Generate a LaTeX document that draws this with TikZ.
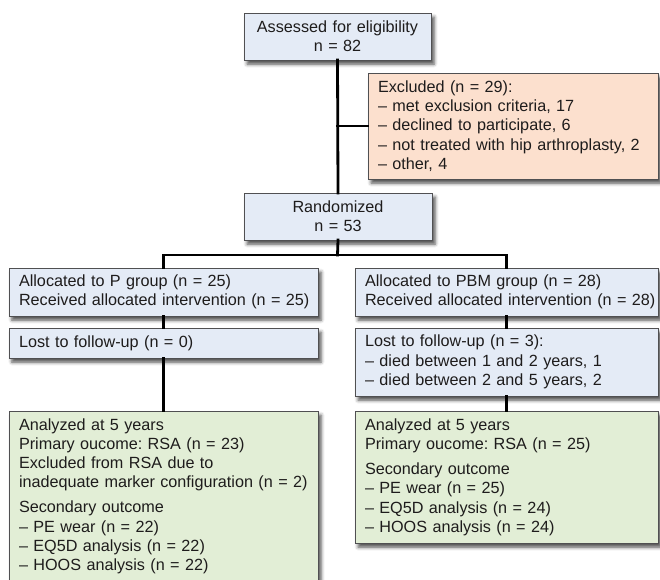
\documentclass[tikz,border=0pt]{standalone}
\usepackage{fontspec}
\setmainfont{Liberation Sans}
\frenchspacing
\usetikzlibrary{shadows.blur}
\definecolor{boxblue}{RGB}{228,235,246}
\definecolor{boxpeach}{RGB}{252,224,206}
\definecolor{boxgreen}{RGB}{226,238,214}
\definecolor{boxline}{RGB}{80,80,82}
\definecolor{txt}{RGB}{30,28,28}
\begin{document}
\begin{tikzpicture}[x=1pt,y=-1pt,
  box/.style={draw=boxline, line width=0.8pt, inner xsep=10pt, inner ysep=0pt,
    outer sep=0pt, anchor=north west, text=txt,
    font=\fontsize{16.2}{19.2}\selectfont\frenchspacing,
    blur shadow={shadow xshift=3pt, shadow yshift=-4pt, shadow blur radius=3.5pt, shadow opacity=70}},
  lbox/.style={box, align=left},
  cbox/.style={box, align=center},
  blue/.style={fill=boxblue},
  peach/.style={fill=boxpeach},
  green/.style={fill=boxgreen},
  conn/.style={line width=2.8pt, draw=black, line cap=rect, line join=miter}]
\useasboundingbox (0,0) rectangle (660,579);
\clip (0,0) rectangle (660,579);

\node[cbox, blue, minimum width=187pt, minimum height=47pt, text width=167pt] (assess) at (244,13)
  {Assessed for eligibility\\ n = 82};
\node[lbox, peach, minimum width=290pt, minimum height=106pt, text width=270pt] (excl) at (368,73)
  {Excluded (n = 29):\\ – met exclusion criteria, 17\\ – declined to participate, 6\\ – not treated with hip arthroplasty, 2\\ – other, 4};
\node[cbox, blue, minimum width=188pt, minimum height=47pt, text width=168pt] (rand) at (244,193)
  {Randomized\\ n = 53};

\node[lbox, blue, minimum width=309pt, minimum height=48pt, text width=289pt] (allocP) at (9,268)
  {Allocated to P group (n = 25)\\ \mbox{Received allocated intervention (n = 25)}};
\node[lbox, blue, minimum width=303pt, minimum height=48pt, text width=283pt] (allocB) at (355,268)
  {Allocated to PBM group (n = 28)\\ \mbox{Received allocated intervention (n = 28)}};

\node[lbox, blue, minimum width=309pt, minimum height=30pt, text width=289pt] (lostP) at (9,328)
  {Lost to follow-up (n = 0)};
\node[lbox, blue, minimum width=303pt, minimum height=68pt, text width=283pt] (lostB) at (355,328)
  {Lost to follow-up (n = 3):\\ – died between 1 and 2 years, 1\\ – died between 2 and 5 years, 2};

\node[lbox, green, minimum width=309pt, minimum height=170pt, text width=289pt] (anaP) at (9,411)
  {Analyzed at 5 years\\ Primary oucome: RSA (n = 23)\\ Excluded from RSA due to\\ \mbox{inadequate marker configuration (n = 2)}\\[6pt]
   Secondary outcome\\ – PE wear (n = 22)\\ – EQ5D analysis (n = 22)\\ – HOOS analysis (n = 22)};
\node[lbox, green, minimum width=303pt, minimum height=132pt, text width=283pt] (anaB) at (355,411)
  {Analyzed at 5 years\\ Primary oucome: RSA (n = 25)\\[6pt]
   Secondary outcome\\ – PE wear (n = 25)\\ – EQ5D analysis (n = 24)\\ – HOOS analysis (n = 24)};

\coordinate (split) at (337.5,255);
\draw[conn] (assess.south) -- (rand.north);
\draw[conn] (excl.west) -- (excl.west -| assess.south);
\draw[conn] (rand.south) -- (split);
\draw[conn] (allocP.north) |- (split) -| (allocB.north);
\draw[conn] (allocP.south) -- (lostP.north);
\draw[conn] (lostP.south) -- (anaP.north);
\draw[conn] (allocB.south) -- (lostB.north);
\draw[conn] (lostB.south) -- (anaB.north);
\end{tikzpicture}
\end{document}
